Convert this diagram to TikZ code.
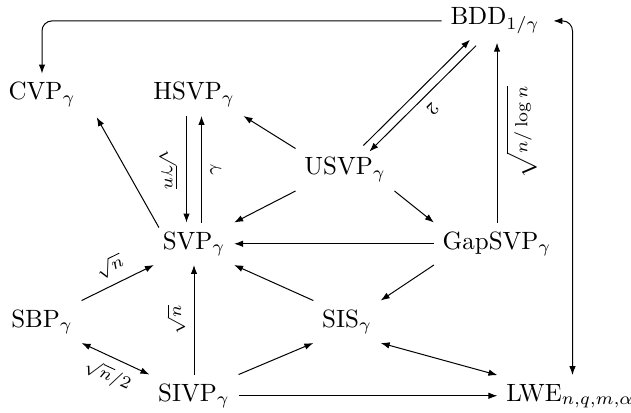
\documentclass[tikz,border=0pt]{standalone}
\usetikzlibrary{arrows.meta}
\begin{document}
\begin{tikzpicture}[x=0.4pt,y=-0.4pt,
  >={Latex[length=3.6pt,width=2.6pt]},
  prob/.style={anchor=base},
  lbl/.style={font=\scriptsize, sloped, allow upside down},
  arr/.style={->},
  darr/.style={<->}]
\useasboundingbox (0,0) rectangle (631,412);
% nodes
\node[prob] (bdd)  at (495,25)  {BDD$_{1/\gamma}$};
\node[prob] (cvp)  at (42,100)  {CVP$_\gamma$};
\node[prob] (hsvp) at (194,100) {HSVP$_\gamma$};
\node[prob] (usvp) at (345,175) {USVP$_\gamma$};
\node[prob] (svp)  at (194,249) {SVP$_\gamma$};
\node[prob] (gap)  at (497,249) {GapSVP$_\gamma$};
\node[prob] (sbp)  at (42,327)  {SBP$_\gamma$};
\node[prob] (sis)  at (347,327) {SIS$_\gamma$};
\node[prob] (sivp) at (194,401) {SIVP$_\gamma$};
\node[prob] (lwe)  at (570,401) {LWE$_{n,q,m,\alpha}$};
% connectors
\draw[arr, rounded corners=4pt] (bdd.west) -| (cvp.north);
\draw[darr, rounded corners=4pt] ([xshift=1pt]lwe.north) |- ([xshift=2pt]bdd.east);
\draw[arr] ([xshift=2pt,yshift=-2pt]svp.north west) -- ([xshift=5pt,yshift=-0.5pt]cvp.south east);
\draw[arr] ([xshift=-3pt]hsvp.south) -- node[lbl, below] {$\sqrt{\gamma n}$} ([xshift=-3pt]svp.north);
\draw[arr] ([xshift=3pt]svp.north) -- node[lbl, below] {$\gamma$} ([xshift=3pt]hsvp.south);
\draw[arr] (usvp.north west) -- (hsvp.south east);
\draw[arr] (usvp.south west) -- (svp.north east);
\draw[arr] (usvp.south east) -- (gap.north west);
\draw[arr, transform canvas={xshift=-1.2pt,yshift=1.2pt}] (usvp) -- (bdd);
\draw[arr, transform canvas={xshift=1.2pt,yshift=-1.2pt}] (bdd) -- node[lbl, above] {$2$} (usvp);
\draw[arr] (gap.north) -- node[lbl, below] {$\sqrt{n/\log n}$} (gap.north |- bdd.south);
\draw[arr] (gap.west) -- (svp.east);
\draw[arr] (gap.south west) -- (sis.north east);
\draw[arr] (sis.north west) -- (svp.south east);
\draw[arr] (sbp.north east) -- node[lbl, above] {$\sqrt{n}$} (svp.south west);
\draw[darr] (sbp.south east) -- node[lbl, below] {$\sqrt{n}/2$} (sivp.north west);
\draw[arr] (sivp.north) -- node[lbl, above] {$\sqrt{n}$} (svp.south);
\draw[arr] (sivp.north east) -- (sis.south west);
\draw[arr] (sivp.east) -- (sivp.east -| lwe.west);
\draw[darr] (sis.south east) -- (lwe.north west);
\end{tikzpicture}
\end{document}
